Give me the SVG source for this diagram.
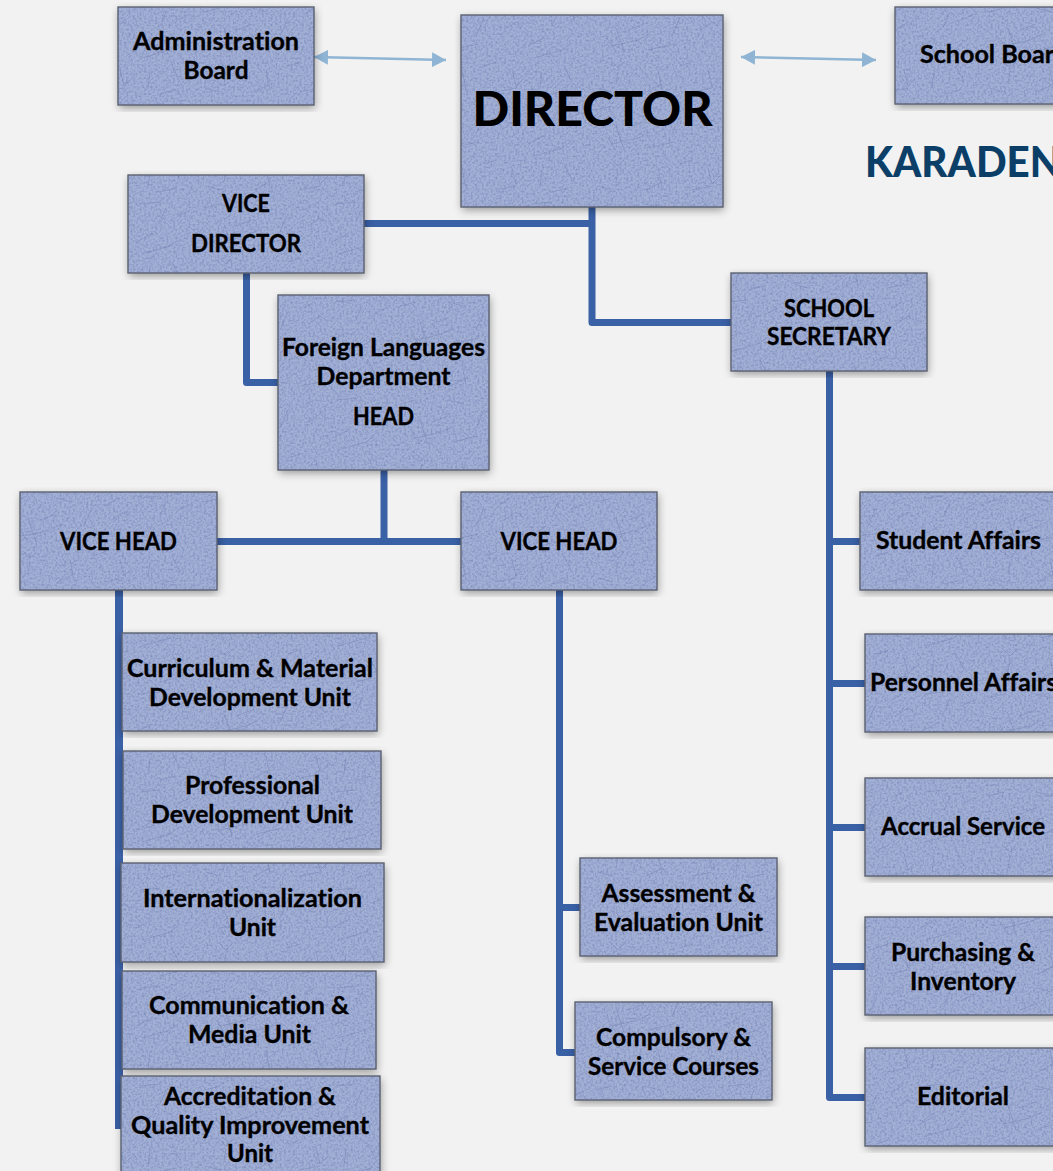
<svg xmlns="http://www.w3.org/2000/svg" width="1053" height="1171" viewBox="0 0 1053 1171">
<defs>
<pattern id="crack" patternUnits="userSpaceOnUse" width="196" height="98">
<rect width="196" height="98" fill="#a3b0d6"/>
<g fill="none" stroke="#7f8fbb" stroke-width="1" stroke-linecap="round" opacity="0.65">
<path d="M40 30L56 24M24 46L50 40L62 34M20 40L28 52M28 28L36 52M60 50L86 44"/>
<path d="M92 18L84 36M108 14L118 8M112 30L124 22L130 26M136 46L152 38M142 58L170 50L178 44M160 26L166 12"/>
<path d="M30 72L28 84M24 62L30 68L36 62M70 70L74 90M92 66L104 62M120 70L124 86L132 78M150 72L148 88M172 66L180 82M10 88L24 92M58 92L74 84M104 92L124 88M160 94L176 90"/>
<path d="M8 12L24 8M56 8L72 12M140 8L160 6M178 20L190 14"/>
</g>
</pattern>
<filter id="tex" x="-5%" y="-5%" width="110%" height="112%" color-interpolation-filters="sRGB">
<feGaussianBlur in="SourceGraphic" stdDeviation="0.45" result="s"/>
<feTurbulence type="fractalNoise" baseFrequency="0.45" numOctaves="3" seed="4" result="n"/>
<feColorMatrix in="n" type="matrix" values="0 0 0 0 0.42  0 0 0 0 0.48  0 0 0 0 0.68  1.3 0 0 0 -0.52" result="m"/>
<feComposite in="m" in2="s" operator="in" result="mm"/>
<feMerge result="t"><feMergeNode in="s"/><feMergeNode in="mm"/></feMerge>
<feDropShadow in="t" dx="1" dy="3" stdDeviation="4" flood-color="#000" flood-opacity="0.38"/>
</filter>
<marker id="ah" viewBox="0 0 14 15" refX="14" refY="7.5" markerWidth="14" markerHeight="15" markerUnits="userSpaceOnUse" orient="auto-start-reverse"><path d="M0 0L14 7.500L0 15Z" fill="#8fb4d4"/></marker>
</defs>
<style>
.b{fill:url(#crack);filter:url(#tex)}
.e{fill:none;stroke:#5c6272;stroke-width:1.4}
.t{font-family:"Lato","Liberation Sans",sans-serif;font-weight:700;font-size:24px;fill:#000;stroke:#000;stroke-width:0.35;text-anchor:middle;font-variant-ligatures:none}
.g{font-family:"Lato","Inter","Liberation Sans",sans-serif;font-weight:900}
.c{fill:none;stroke:#3a60a6;stroke-width:7;stroke-linejoin:round;stroke-linecap:butt}
.a{fill:none;stroke:#8fb4d4;stroke-width:2.6}
</style>
<rect width="1053" height="1171" fill="#f2f2f2"/>
<text class="g" x="865" y="177" font-size="42" fill="#0b3f68" textLength="196" lengthAdjust="spacingAndGlyphs" id="brand">KARADEN</text>
<g id="connectors">
<path class="a" d="M314 57L446 60" marker-start="url(#ah)" marker-end="url(#ah)"/>
<path class="a" d="M741 57L876 60" marker-start="url(#ah)" marker-end="url(#ah)"/>
<path class="c" d="M364 223.500H592"/>
<path class="c" d="M592 207V322.500H731"/>
<path class="c" d="M246.500 273V382.500H278"/>
<path class="c" d="M384 470V541.500"/>
<path class="c" d="M217 541.500H461"/>
<path class="c" d="M119 590V1129" stroke-width="8" style="stroke-width:8"/>
<path class="c" d="M559.500 590V1052.500H575"/>
<path class="c" d="M559.500 907.500H580"/>
<path class="c" d="M829.500 371V1097.500H865"/>
<path class="c" d="M829.500 541.500H860"/>
<path class="c" d="M829.500 683.500H865"/>
<path class="c" d="M829.500 827.500H865"/>
<path class="c" d="M829.500 966.500H865"/>
</g>
<g id="admin-board"><rect class="b" x="118" y="7" width="196" height="98"/><rect class="e" x="118" y="7" width="196" height="98"/><text class="t" x="216" y="50" textLength="166" lengthAdjust="spacingAndGlyphs">Administration</text><text class="t" x="216" y="79" textLength="65" lengthAdjust="spacingAndGlyphs">Board</text></g>
<g id="director"><rect class="b" x="461" y="15" width="262" height="192"/><rect class="e" x="461" y="15" width="262" height="192"/><text class="g" x="592.500" y="126" font-size="47" fill="#000" text-anchor="middle" textLength="240" lengthAdjust="spacingAndGlyphs">DIRECTOR</text></g>
<g id="school-board"><rect class="b" x="895" y="7" width="170" height="97"/><rect class="e" x="895" y="7" width="170" height="97"/><text class="t" x="920" y="63" style="text-anchor:start" textLength="148" lengthAdjust="spacingAndGlyphs">School Board</text></g>
<g id="vice-director"><rect class="b" x="128" y="175" width="236" height="98"/><rect class="e" x="128" y="175" width="236" height="98"/><text class="t" x="246" y="212" textLength="48" lengthAdjust="spacingAndGlyphs">VICE</text><text class="t" x="246" y="252" textLength="110" lengthAdjust="spacingAndGlyphs">DIRECTOR</text></g>
<g id="fl-head"><rect class="b" x="278" y="295" width="211" height="175"/><rect class="e" x="278" y="295" width="211" height="175"/><text class="t" x="383.500" y="356" textLength="203" lengthAdjust="spacingAndGlyphs">Foreign Languages</text><text class="t" x="383.500" y="385" textLength="134" lengthAdjust="spacingAndGlyphs">Department</text><text class="t" x="383.500" y="425" textLength="61" lengthAdjust="spacingAndGlyphs">HEAD</text></g>
<g id="secretary"><rect class="b" x="731" y="273" width="196" height="98"/><rect class="e" x="731" y="273" width="196" height="98"/><text class="t" x="829" y="317" textLength="90" lengthAdjust="spacingAndGlyphs">SCHOOL</text><text class="t" x="829" y="345" textLength="124" lengthAdjust="spacingAndGlyphs">SECRETARY</text></g>
<g id="vice-head-l"><rect class="b" x="20" y="492" width="197" height="98"/><rect class="e" x="20" y="492" width="197" height="98"/><text class="t" x="118.500" y="550" textLength="117" lengthAdjust="spacingAndGlyphs">VICE HEAD</text></g>
<g id="vice-head-r"><rect class="b" x="461" y="492" width="196" height="98"/><rect class="e" x="461" y="492" width="196" height="98"/><text class="t" x="559" y="550" textLength="117" lengthAdjust="spacingAndGlyphs">VICE HEAD</text></g>
<g id="curriculum"><rect class="b" x="122" y="633" width="255" height="98"/><rect class="e" x="122" y="633" width="255" height="98"/><text class="t" x="250" y="677" textLength="246" lengthAdjust="spacingAndGlyphs">Curriculum &amp; Material</text><text class="t" x="250" y="706" textLength="202" lengthAdjust="spacingAndGlyphs">Development Unit</text></g>
<g id="professional"><rect class="b" x="123" y="751" width="258" height="98"/><rect class="e" x="123" y="751" width="258" height="98"/><text class="t" x="252.500" y="794" textLength="135" lengthAdjust="spacingAndGlyphs">Professional</text><text class="t" x="252" y="823" textLength="202" lengthAdjust="spacingAndGlyphs">Development Unit</text></g>
<g id="international"><rect class="b" x="121" y="863" width="263" height="99"/><rect class="e" x="121" y="863" width="263" height="99"/><text class="t" x="252.500" y="907" textLength="219" lengthAdjust="spacingAndGlyphs">Internationalization</text><text class="t" x="252.500" y="936" textLength="47" lengthAdjust="spacingAndGlyphs">Unit</text></g>
<g id="communication"><rect class="b" x="122" y="971" width="254" height="98"/><rect class="e" x="122" y="971" width="254" height="98"/><text class="t" x="249" y="1014" textLength="200" lengthAdjust="spacingAndGlyphs">Communication &amp;</text><text class="t" x="249.500" y="1043" textLength="123" lengthAdjust="spacingAndGlyphs">Media Unit</text></g>
<g id="accreditation"><rect class="b" x="121" y="1076" width="259" height="100"/><rect class="e" x="121" y="1076" width="259" height="100"/><text class="t" x="250" y="1105" textLength="172" lengthAdjust="spacingAndGlyphs">Accreditation &amp;</text><text class="t" x="250" y="1134" textLength="238" lengthAdjust="spacingAndGlyphs">Quality Improvement</text><text class="t" x="250" y="1162" textLength="46" lengthAdjust="spacingAndGlyphs">Unit</text></g>
<g id="assessment"><rect class="b" x="580" y="858" width="197" height="98"/><rect class="e" x="580" y="858" width="197" height="98"/><text class="t" x="678.500" y="902" textLength="154" lengthAdjust="spacingAndGlyphs">Assessment &amp;</text><text class="t" x="678.500" y="931" textLength="169" lengthAdjust="spacingAndGlyphs">Evaluation Unit</text></g>
<g id="compulsory"><rect class="b" x="575" y="1002" width="197" height="98"/><rect class="e" x="575" y="1002" width="197" height="98"/><text class="t" x="673.500" y="1046" textLength="155" lengthAdjust="spacingAndGlyphs">Compulsory &amp;</text><text class="t" x="673.500" y="1075" textLength="171" lengthAdjust="spacingAndGlyphs">Service Courses</text></g>
<g id="student"><rect class="b" x="860" y="492" width="200" height="98"/><rect class="e" x="860" y="492" width="200" height="98"/><text class="t" x="958.500" y="549" textLength="165" lengthAdjust="spacingAndGlyphs">Student Affairs</text></g>
<g id="personnel"><rect class="b" x="865" y="634" width="195" height="98"/><rect class="e" x="865" y="634" width="195" height="98"/><text class="t" x="870" y="691" style="text-anchor:start" textLength="187" lengthAdjust="spacingAndGlyphs">Personnel Affairs</text></g>
<g id="accrual"><rect class="b" x="865" y="778" width="195" height="98"/><rect class="e" x="865" y="778" width="195" height="98"/><text class="t" x="963" y="835" textLength="164" lengthAdjust="spacingAndGlyphs">Accrual Service</text></g>
<g id="purchasing"><rect class="b" x="865" y="917" width="195" height="98"/><rect class="e" x="865" y="917" width="195" height="98"/><text class="t" x="963" y="961" textLength="144" lengthAdjust="spacingAndGlyphs">Purchasing &amp;</text><text class="t" x="963" y="990" textLength="106" lengthAdjust="spacingAndGlyphs">Inventory</text></g>
<g id="editorial"><rect class="b" x="865" y="1048" width="195" height="98"/><rect class="e" x="865" y="1048" width="195" height="98"/><text class="t" x="963" y="1105" textLength="92" lengthAdjust="spacingAndGlyphs">Editorial</text></g>
</svg>
